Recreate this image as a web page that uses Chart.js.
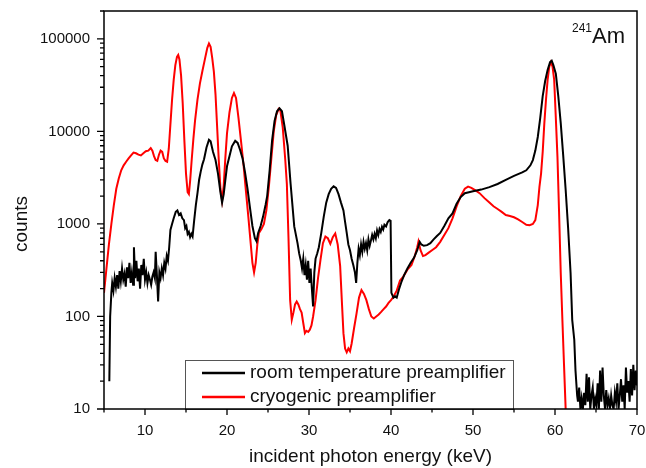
<!DOCTYPE html>
<html>
<head>
<meta charset="utf-8">
<title>241Am spectrum</title>
<script src="https://cdn.jsdelivr.net/npm/chart.js@4/dist/chart.umd.min.js"></script>
<style>
    body { margin: 0; background: #fff; }
    #spectrum { display: block; }
</style>
</head>
<body>
<canvas id="spectrum" width="646" height="468"></canvas>
<script>
// Данные спектра
const roomEnergy = [
    5.65, 5.75, 5.9, 6.0, 6.15, 6.3, 6.45, 6.6, 6.75, 6.9, 7.05, 7.2, 7.35, 7.5, 7.65, 7.8, 7.95,
    8.1, 8.25, 8.4, 8.55, 8.65, 8.8, 8.95, 9.1, 9.25, 9.4, 9.55, 9.7, 9.85, 10.0, 10.15, 10.3,
    10.45, 10.6, 10.75, 10.9, 11.05, 11.2, 11.3, 11.45, 11.6, 11.75, 11.9, 12.05, 12.2, 12.35,
    12.5, 12.65, 12.8, 12.95, 13.1, 13.3, 13.5, 13.75, 13.95, 14.15, 14.35, 14.55, 14.75, 14.9,
    15.05, 15.2, 15.35, 15.5, 15.65, 15.8, 16.0, 16.2, 16.4, 16.6, 16.8, 17.0, 17.2, 17.5, 17.8,
    18.0, 18.3, 18.6, 18.9, 19.2, 19.4, 19.6, 19.8, 20.0, 20.3, 20.6, 21.0, 21.3, 21.6, 21.9,
    22.2, 22.5, 22.8, 23.1, 23.4, 23.6, 23.8, 24.1, 24.4, 24.7, 24.9, 25.2, 25.5, 25.8, 26.1,
    26.4, 26.7, 27.0, 27.4, 27.75, 28.2, 28.6, 28.8, 29.0, 29.15, 29.3, 29.45, 29.6, 29.75, 29.9,
    30.05, 30.2, 30.35, 30.5, 30.65, 30.8, 31.0, 31.2, 31.5, 31.8, 32.1, 32.4, 32.7, 33.0, 33.3,
    33.6, 33.9, 34.2, 34.4, 34.6, 34.8, 35.0, 35.2, 35.4, 35.6, 35.75, 35.9, 36.05, 36.2, 36.35,
    36.5, 36.65, 36.8, 36.95, 37.1, 37.25, 37.4, 37.55, 37.7, 37.85, 38.0, 38.15, 38.3, 38.45,
    38.6, 38.75, 38.9, 39.05, 39.2, 39.4, 39.6, 39.8, 39.95, 40.05, 40.3, 40.5, 40.7, 41.0, 41.3,
    41.6, 42.0, 42.4, 42.8, 43.2, 43.5, 43.7, 44.0, 44.4, 44.8, 45.2, 45.6, 46.0, 46.5, 47.0,
    47.5, 48.0, 48.5, 49.0, 49.5, 50.0, 51.0, 52.0, 53.0, 54.0, 55.0, 56.0, 56.5, 57.0, 57.3,
    57.6, 57.9, 58.2, 58.5, 58.8, 59.1, 59.4, 59.6, 59.8, 60.1, 60.4, 60.7, 61.0, 61.3, 61.6,
    61.9, 62.1, 62.35, 62.5, 62.7, 62.8, 62.95, 63.1, 63.25, 63.4, 63.55, 63.7, 63.85, 64.0,
    64.15, 64.3, 64.45, 64.6, 64.75, 64.9, 65.05, 65.2, 65.35, 65.5, 65.65, 65.8, 65.95, 66.1,
    66.25, 66.4, 66.55, 66.7, 66.85, 67.0, 67.15, 67.3, 67.45, 67.6, 67.75, 67.9, 68.05, 68.2,
    68.35, 68.5, 68.65, 68.8, 68.95, 69.1, 69.25, 69.4, 69.55, 69.7, 69.85, 70.0
];
const roomCounts = [
    20, 100, 180, 230, 190, 260, 210, 280, 200, 310, 240, 330, 250, 290, 210, 340, 260,
    380, 230, 300, 220, 560, 260, 400, 240, 330, 200, 360, 280, 420, 250, 300, 230,
    280, 250, 220, 270, 300, 260, 500, 280, 145, 300, 260, 330, 280, 380,
    330, 450, 400, 560, 860, 1000, 1150, 1350, 1400, 1250, 1300, 1150, 1100, 900,
    950, 780, 820, 720, 780, 730, 1100, 1600, 2150, 3000, 3700, 4400, 5000, 6700, 8100,
    7800, 6000, 4900, 3500, 2200, 1700, 2100, 3000, 4200, 5400, 6900, 7900, 7500, 6300, 5100,
    3600, 2400, 1500, 950, 700, 650, 800, 950, 1200, 1600, 2000, 3800, 8000, 13000, 16500,
    17800, 16500, 11500, 7000, 2750, 940, 620, 480, 400, 330, 420, 280, 360, 250, 400,
    230, 330, 200, 128, 300, 420, 480, 560, 800, 1200, 1700, 2100, 2400, 2550, 2450,
    2100, 1700, 1400, 1050, 800, 600, 520, 420, 360, 300, 230, 380, 540, 460, 600,
    500, 640, 540, 620, 520, 680, 580, 660, 760, 680, 780, 700, 850, 760,
    880, 820, 930, 870, 980, 940, 1050, 1100, 1080, 180, 160, 165, 160, 200, 240,
    280, 330, 380, 430, 520, 640, 600, 580, 590, 620, 680, 740, 800, 950, 1150,
    1300, 1650, 1950, 2150, 2200, 2250, 2350, 2500, 2700, 3000, 3300, 3600, 3800, 4300, 4900,
    6200, 8700, 14000, 24000, 35000, 46000, 56000, 58000, 52000, 42000, 24000, 12300, 5500, 2340, 900,
    295, 92, 56, 26, 14, 12, 17, 10, 13, 10, 15, 11, 24, 12,
    22, 10, 14, 17, 10, 13, 11, 19, 10, 26, 12, 28, 14, 10,
    16, 11, 13, 10, 14, 11, 10, 15, 12, 19, 10, 14, 21, 12,
    18, 10, 28, 15, 20, 12, 27, 14, 30, 16, 26, 18
];

const cryoEnergy = [
    5.0, 5.3, 5.6, 5.9, 6.2, 6.5, 6.8, 7.1, 7.4, 7.7, 8.0, 8.3, 8.6, 8.9, 9.2, 9.5, 9.8,
    10.1, 10.4, 10.7, 10.9, 11.1, 11.3, 11.5, 11.7, 11.9, 12.1, 12.3, 12.5, 12.7, 12.9, 13.1,
    13.3, 13.5, 13.7, 13.9, 14.05, 14.2, 14.4, 14.6, 14.8, 15.0, 15.2, 15.35, 15.5, 15.7,
    15.9, 16.1, 16.4, 16.7, 17.0, 17.3, 17.6, 17.8, 18.0, 18.2, 18.4, 18.6, 18.8, 19.0,
    19.2, 19.4, 19.6, 19.8, 20.0, 20.3, 20.6, 20.85, 21.1, 21.4, 21.7, 22.0, 22.3, 22.6,
    22.9, 23.1, 23.3, 23.5, 23.7, 23.9, 24.2, 24.5, 24.8, 25.1, 25.4, 25.7, 26.0, 26.3,
    26.5, 26.8, 27.1, 27.3, 27.5, 27.7, 27.9, 28.1, 28.3, 28.5, 28.7, 28.9, 29.1, 29.3,
    29.5, 29.7, 29.9, 30.1, 30.3, 30.5, 30.8, 31.1, 31.4, 31.7, 32.0, 32.3, 32.6, 32.9,
    33.2, 33.5, 33.8, 34.0, 34.2, 34.4, 34.6, 34.8, 35.0, 35.2, 35.5, 35.8, 36.1, 36.4,
    36.7, 37.0, 37.3, 37.6, 37.9, 38.2, 38.5, 38.8, 39.1, 39.4, 39.7, 40.0, 40.3, 40.7,
    41.1, 41.5, 42.0, 42.5, 42.9, 43.2, 43.35, 43.6, 43.9, 44.2, 44.6, 45.0, 45.5, 46.0,
    46.5, 47.0, 47.5, 48.0, 48.5, 49.0, 49.4, 49.8, 50.3, 50.8, 51.4, 52.0, 52.5, 53.0,
    53.5, 54.0, 54.5, 55.0, 55.5, 56.0, 56.5, 56.9, 57.3, 57.6, 57.9, 58.1, 58.3, 58.5,
    58.7, 58.9, 59.1, 59.3, 59.5, 59.7, 59.9, 60.1, 60.3, 60.5, 60.7, 60.9, 61.1, 61.3, 61.4
];
const cryoCounts = [
    180, 330, 600, 1000, 1600, 2400, 3100, 3800, 4300, 4700, 5100, 5500, 5900, 5800, 5600, 5500, 5800,
    6100, 6200, 6600, 6200, 5400, 4900, 4800, 5600, 6200, 6000, 5100, 4800, 4700, 6500, 12000,
    22000, 36000, 52000, 64000, 67000, 60000, 40000, 20000, 8000, 3500, 2200, 2100, 2900, 5000,
    8300, 13000, 22000, 33000, 45000, 60000, 80000, 89000, 82000, 62000, 44000, 25000, 11000, 4800,
    2400, 1800, 2600, 5200, 9500, 16000, 23000, 26000, 23000, 14000, 8000, 4500, 2300, 1200,
    600, 380, 300, 380, 600, 800, 880, 1000, 1400, 2500, 5000, 10000, 15000, 17500,
    17000, 11000, 5000, 2700, 700, 150, 92, 110, 135, 145, 135, 120, 110, 85,
    66, 70, 68, 72, 80, 100, 150, 260, 410, 620, 730, 700, 610, 720,
    790, 600, 350, 150, 66, 45, 41, 45, 42, 51, 75, 108, 160, 193,
    175, 150, 120, 100, 95, 100, 105, 112, 120, 128, 140, 150, 163, 190,
    245, 270, 320, 360, 450, 560, 645, 520, 450, 460, 490, 520, 560, 640,
    760, 900, 1150, 1550, 2000, 2400, 2530, 2450, 2300, 2150, 1900, 1700, 1550, 1450,
    1350, 1250, 1220, 1180, 1120, 1050, 980, 970, 1000, 1100, 1600, 2500, 3500, 6000,
    12300, 22000, 36000, 50000, 56000, 50000, 36000, 14000, 5300, 1300, 295, 92, 30, 10, 6
];

// Подписи делений
const xTickValues = [10, 20, 30, 40, 50, 60, 70];
const xMinorValues = [5, 15, 25, 35, 45, 55, 65];
const yTickValues = [10, 100, 1000, 10000, 100000];

const FONT = "'Liberation Sans', Arial, sans-serif";

function toPoints(xs, ys) {
    return xs.map((x, i) => ({ x: x, y: ys[i] }));
}

// Убираем автоматические поля под подписи делений
function fixAxisBox(scale, size) {
    if (scale.isHorizontal()) {
        scale.height = size;
    } else {
        scale.width = size;
    }
    scale.paddingTop = 0;
    scale.paddingBottom = 0;
    scale.paddingLeft = 0;
    scale.paddingRight = 0;
}

// Рамка, деления, легенда и подписи
const decorPlugin = {
    id: 'decor',
    afterDatasetsDraw(chart) {
        const ctx = chart.ctx;
        const area = chart.chartArea;
        const xs = chart.scales.x;
        const ys = chart.scales.y;

        // легенда
        const lx = 185, ly = 360, lw = 328, lh = 49;
        ctx.save();
        ctx.fillStyle = '#fff';
        ctx.fillRect(lx, ly, lw, lh);
        ctx.strokeStyle = '#555';
        ctx.lineWidth = 1;
        ctx.strokeRect(lx + 0.5, ly + 0.5, lw, lh);
        ctx.font = '19px ' + FONT;
        ctx.textBaseline = 'middle';
        chart.data.datasets.forEach((ds, i) => {
            const yy = 373 + i * 24;
            ctx.strokeStyle = ds.borderColor;
            ctx.lineWidth = 2.5;
            ctx.beginPath();
            ctx.moveTo(202, yy);
            ctx.lineTo(245, yy);
            ctx.stroke();
            ctx.fillStyle = '#111';
            ctx.fillText(ds.label, 250, yy);
        });

        // рамка графика
        ctx.strokeStyle = '#000';
        ctx.lineWidth = 1.5;
        ctx.strokeRect(area.left, area.top, area.right - area.left, area.bottom - area.top);

        // деления оси X
        ctx.lineWidth = 1.3;
        ctx.beginPath();
        xTickValues.forEach(v => {
            const px = xs.getPixelForValue(v);
            ctx.moveTo(px, area.bottom);
            ctx.lineTo(px, area.bottom + 6);
        });
        xMinorValues.forEach(v => {
            const px = xs.getPixelForValue(v);
            ctx.moveTo(px, area.bottom);
            ctx.lineTo(px, area.bottom + 3.5);
        });
        // деления оси Y (логарифмические)
        for (let d = 10; d <= 100000; d *= 10) {
            for (let k = 1; k <= 9; k++) {
                const v = d * k;
                if (v > ys.max) break;
                const py = ys.getPixelForValue(v);
                ctx.moveTo(area.left, py);
                ctx.lineTo(area.left - (k === 1 ? 7 : 4), py);
            }
        }
        ctx.stroke();

        // подпись оси Y
        ctx.fillStyle = '#111';
        ctx.font = '19px ' + FONT;
        ctx.textAlign = 'center';
        ctx.textBaseline = 'middle';
        ctx.translate(22, 224);
        ctx.rotate(-Math.PI / 2);
        ctx.fillText('counts', 0, 0);
        ctx.restore();

        // изотоп
        ctx.save();
        ctx.fillStyle = '#111';
        ctx.textBaseline = 'alphabetic';
        ctx.font = '12px ' + FONT;
        ctx.fillText('241', 572, 32);
        ctx.font = '22px ' + FONT;
        ctx.fillText('Am', 592, 43);
        ctx.restore();
    }
};

function initSpectrumChart() {
    const ctx = document.getElementById('spectrum').getContext('2d');

    window.spectrumChart = new Chart(ctx, {
        type: 'line',
        data: {
            datasets: [{
                label: 'room temperature preamplifier',
                data: toPoints(roomEnergy, roomCounts),
                borderColor: '#000000',
                borderWidth: 2,
                pointRadius: 0,
                tension: 0
            }, {
                label: 'cryogenic preamplifier',
                data: toPoints(cryoEnergy, cryoCounts),
                borderColor: '#ff0000',
                borderWidth: 2,
                pointRadius: 0,
                tension: 0
            }]
        },
        options: {
            responsive: false,
            animation: false,
            layout: {
                padding: { top: 11, right: 9, left: 0, bottom: 0 }
            },
            plugins: {
                legend: { display: false },
                tooltip: { enabled: false }
            },
            scales: {
                x: {
                    type: 'linear',
                    min: 5,
                    max: 70,
                    afterBuildTicks: scale => {
                        scale.ticks = xTickValues.map(v => ({ value: v }));
                    },
                    afterFit: scale => fixAxisBox(scale, 59),
                    grid: { display: false, drawTicks: false },
                    border: { display: false },
                    ticks: {
                        padding: 13,
                        color: '#111',
                        font: { family: FONT, size: 15 },
                        maxRotation: 0
                    },
                    title: {
                        display: true,
                        text: 'incident photon energy (keV)',
                        color: '#111',
                        font: { family: FONT, size: 19 },
                        padding: { top: 0, bottom: 0 }
                    }
                },
                y: {
                    type: 'logarithmic',
                    min: 10,
                    max: 200000,
                    afterBuildTicks: scale => {
                        scale.ticks = yTickValues.map(v => ({ value: v }));
                    },
                    afterFit: scale => fixAxisBox(scale, 104),
                    grid: { display: false, drawTicks: false },
                    border: { display: false },
                    ticks: {
                        padding: 14,
                        color: '#111',
                        font: { family: FONT, size: 15 },
                        callback: value => String(value)
                    }
                }
            }
        },
        plugins: [decorPlugin]
    });
}

document.addEventListener('DOMContentLoaded', initSpectrumChart);
</script>
</body>
</html>
